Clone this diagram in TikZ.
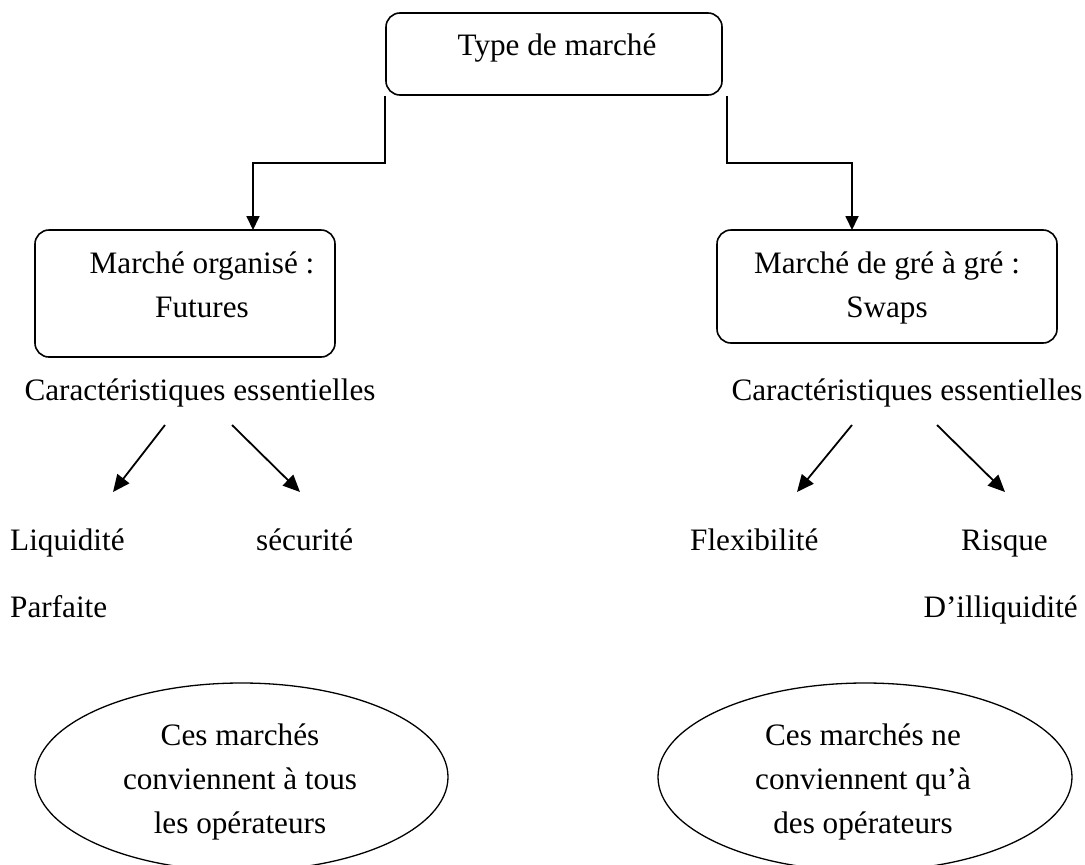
\documentclass[tikz,border=0pt]{standalone}
\usepackage{fontspec}
\setmainfont{Liberation Serif}
\usetikzlibrary{shapes.geometric,arrows.meta,calc}
\begin{document}
\begin{tikzpicture}[x=1pt,y=-1pt,
  every node/.style={font=\fontsize{31.2}{44}\selectfont, inner sep=0pt},
  box/.style={draw, line width=1.6pt, rounded corners=14pt},
  oval/.style={draw, ellipse, line width=1.3pt},
  txt/.style={anchor=base, align=center},
  conn/.style={line width=1.8pt, -{Triangle[length=14pt,width=13pt]}},
  diag/.style={line width=1.8pt, -{Triangle[length=17pt,width=15pt]}},
]
\useasboundingbox (0,0) rectangle (1085,865);
\clip (0,0) rectangle (1085,865);

% boxes
\node[box, minimum width=336pt, minimum height=82pt] (top) at (554,54) {};
\node[box, minimum width=300pt, minimum height=127pt] (lbox) at (185,293.5) {};
\node[box, minimum width=340pt, minimum height=113pt] (rbox) at (887,286.5) {};

% box texts (anchor base = baseline of the last line)
\node[txt] (ttop) at (557,55) {Type de marché};
\node[txt] (tl) at (202,317) {Marché organisé :\\Futures};
\node[txt] (tr) at (887,317) {Marché de gré à gré :\\Swaps};

% connectors
\coordinate (lin) at (253,230);
\coordinate (rin) at (852,230);
\draw[conn] (top.south west) -- ++(0,67) -| (lin);
\draw[conn] (top.south east) ++(4,0) -- ++(0,67) -| (rin);

% characteristics
\node[txt] (carL) at (200,400) {Caractéristiques essentielles};
\node[txt] (carR) at (907,400) {Caractéristiques essentielles};

\node[anchor=base west] (liq) at (10,550) {Liquidité};
\node[anchor=base west] (sec) at (256,550) {sécurité};
\node[anchor=base west] (parf) at (10,617) {Parfaite};
\node[anchor=base west] (flex) at (690,550) {Flexibilité};
\node[anchor=base east] (risq) at (1048,550) {Risque};
\node[anchor=base east] (illiq) at (1078,617) {D’illiquidité};

\coordinate (a1s) at (165,425); \coordinate (a1e) at (113,492);
\coordinate (a2s) at (232,425); \coordinate (a2e) at (300,492);
\coordinate (a3s) at (852,425); \coordinate (a3e) at (797,492);
\coordinate (a4s) at (937,425); \coordinate (a4e) at (1005,492);
\draw[diag] (a1s) -- (a1e);
\draw[diag] (a2s) -- (a2e);
\draw[diag] (a3s) -- (a3e);
\draw[diag] (a4s) -- (a4e);

% ellipses
\node[oval, minimum width=413pt, minimum height=188pt] (el) at (241.5,777) {};
\node[oval, minimum width=414pt, minimum height=188pt] (er) at (865,777) {};
\node[txt] (tel) at (240,833) {Ces marchés\\conviennent à tous\\les opérateurs};
\node[txt] (ter) at (863,833) {Ces marchés ne\\conviennent qu’à\\des opérateurs};
\end{tikzpicture}
\end{document}
